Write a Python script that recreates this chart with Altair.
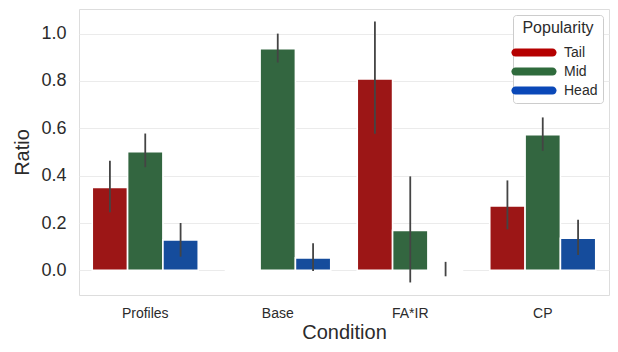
import altair as alt
import pandas as pd

conditions = ["Profiles", "Base", "FA*IR", "CP"]
popularity = ["Tail", "Mid", "Head"]

# ratio per condition (rows) x popularity (Tail, Mid, Head)
ratio = [
    [0.350, 0.501, 0.129],
    [0.000, 0.936, 0.053],
    [0.809, 0.169, 0.000],
    [0.272, 0.573, 0.136],
]
err_low = [
    [0.246, 0.436, 0.058],
    [0.000, 0.878, -0.003],
    [0.577, -0.051, -0.025],
    [0.173, 0.505, 0.065],
]
err_high = [
    [0.463, 0.578, 0.200],
    [0.000, 1.000, 0.115],
    [1.051, 0.397, 0.036],
    [0.380, 0.646, 0.214],
]
has_err = [
    [True, True, True],
    [False, True, True],
    [True, True, True],
    [True, True, True],
]

bar_colors = ["#9c1616", "#336640", "#154c9c"]
legend_colors = ["#b50000", "#2f6b3c", "#0a48b8"]

rows = []
for i, c in enumerate(conditions):
    for j, p in enumerate(popularity):
        rows.append({
            "Condition": c, "Popularity": p, "Ratio": ratio[i][j],
            "lo": err_low[i][j], "hi": err_high[i][j], "err": has_err[i][j],
        })
df = pd.DataFrame(rows)

FONT = "Liberation Sans"
TXT = "#2b2b2b"

x_enc = alt.X("Condition:N", sort=conditions,
              scale=alt.Scale(paddingInner=0.2, paddingOuter=0.1),
              axis=alt.Axis(title="Condition", labelAngle=0, labelFontSize=14,
                            titleFontSize=20, labelPadding=11, titlePadding=2,
                            ticks=False, domain=False, grid=False,
                            labelColor=TXT, titleColor=TXT, labelFont=FONT,
                            titleFont=FONT, titleFontWeight="normal"))
xo = alt.XOffset("Popularity:N", sort=popularity, scale=alt.Scale(paddingInner=0, paddingOuter=0))
y_scale = alt.Scale(domain=[-0.104, 1.104], nice=False, zero=False)
y_axis = alt.Axis(title="Ratio", values=[0, 0.2, 0.4, 0.6, 0.8, 1.0], format=".1f",
                  labelFontSize=18, titleFontSize=20, labelPadding=13,
                  titlePadding=8, ticks=False, domain=False,
                  gridColor="#ebebeb", gridWidth=1.2,
                  labelColor=TXT, titleColor=TXT, labelFont=FONT,
                  titleFont=FONT, titleFontWeight="normal")

base = alt.Chart(df)

# capsule symbol, wider than the unit square so rows stay compact
capsule = "M -1.3,-0.44 L 2.7,-0.44 A 0.44,0.44 0 0 1 2.7,0.44 L -1.3,0.44 A 0.44,0.44 0 0 1 -1.3,-0.44 Z"

# hidden layer (drawn below the Mid bars) that carries the legend colours
legend_layer = base.transform_calculate(Pop="datum.Popularity", yy="0.05").mark_point(
    filled=True, size=10
).encode(
    x=x_enc,
    y=alt.Y("yy:Q", scale=y_scale, axis=y_axis),
    color=alt.Color("Pop:N", sort=popularity,
                    scale=alt.Scale(domain=popularity, range=legend_colors),
                    legend=alt.Legend(title="Popularity", orient="top-right", offset=6,
                                      symbolType=capsule, symbolSize=342,
                                      symbolStrokeWidth=0, symbolOpacity=1,
                                      titleFontSize=16, labelFontSize=14,
                                      titleFont=FONT, labelFont=FONT,
                                      titleFontWeight="normal", titleColor=TXT,
                                      labelColor=TXT, titleAnchor="middle",
                                      titlePadding=7,
                                      rowPadding=2, labelOffset=27,
                                      padding=5, strokeColor="#cccccc",
                                      fillColor="white", cornerRadius=3)),
)

bars = base.mark_bar(stroke="white", strokeWidth=1.6).encode(
    x=x_enc,
    xOffset=xo,
    y=alt.Y("Ratio:Q", scale=y_scale, axis=y_axis),
    y2=alt.datum(0),
    fill=alt.Fill("Popularity:N", sort=popularity,
                  scale=alt.Scale(domain=popularity, range=bar_colors), legend=None),
)

errs = base.transform_filter("datum.err").mark_rule(color="#444444", strokeWidth=1.8).encode(
    x=alt.X("Condition:N", sort=conditions),
    xOffset=xo,
    y=alt.Y("lo:Q", scale=y_scale),
    y2="hi:Q",
)

chart = alt.layer(legend_layer, bars, errs).properties(
    width=530, height=286,
    autosize=alt.AutoSizeParams(type="none"),
    padding={"left": 71, "top": 1, "right": 1, "bottom": 49},
).configure_view(stroke="#d4d4d4", strokeWidth=2.2).configure(background="white")

chart.save("out.html", embed_options={"renderer": "svg", "actions": False})
